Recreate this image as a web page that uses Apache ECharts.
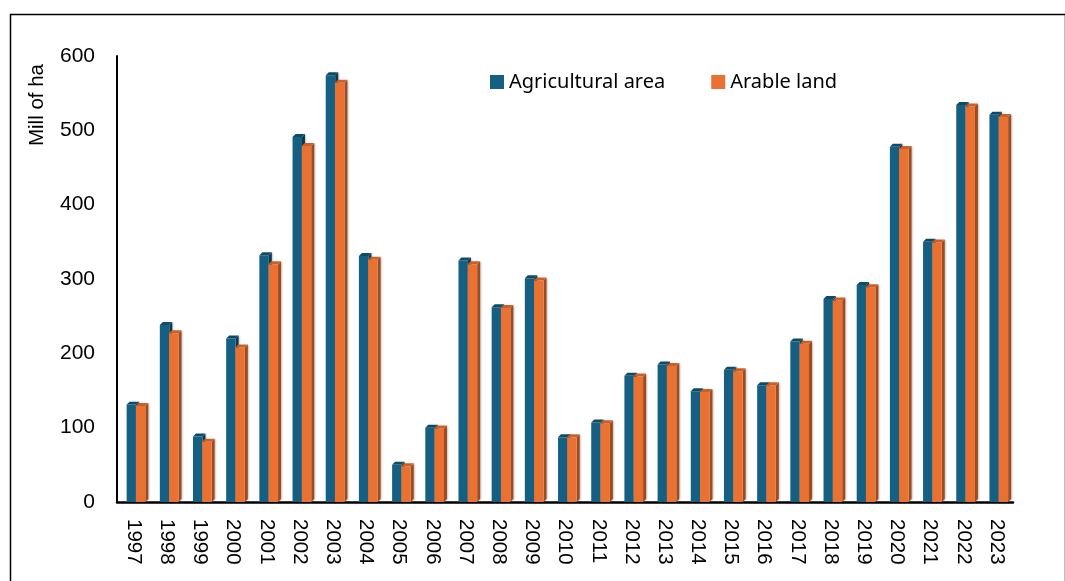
<!DOCTYPE html>
<html>
<head>
<meta charset="utf-8">
<script src="https://cdn.jsdelivr.net/npm/echarts@6/dist/echarts.min.js"></script>
<style>
  html, body { margin: 0; padding: 0; background: #ffffff; }
  #chart { width: 1065px; height: 581px; }
</style>
</head>
<body>
<div id="chart"></div>
<script>
// Years on the category axis
const years = ['1997','1998','1999','2000','2001','2002','2003','2004','2005','2006',
               '2007','2008','2009','2010','2011','2012','2013','2014','2015','2016',
               '2017','2018','2019','2020','2021','2022','2023'];

// Million hectares
const agriculturalArea = [131, 238, 88, 220, 332, 491, 574, 331, 50, 100,
                          325, 262, 301, 87, 107, 170, 185, 149, 178, 157,
                          216, 273, 292, 478, 350, 534, 521];
const arableLand = [129, 227, 81, 208, 320, 479, 564, 326, 48, 99,
                    320, 261, 298, 87, 106, 169, 183, 148, 176, 157,
                    213, 271, 289, 475, 349, 532, 518];

const yTicks = { min: 0, max: 600, step: 100 };

// face colours: front, top, side
const palette = {
  agri:   { front: '#156082', top: '#0f4a66', side: '#0b3a50' },
  arable: { front: '#E97132', top: '#cc5f27', side: '#9e4c1f' }
};

// Draws a column with a shallow 3D top and side face.
// startFrac: left edge of the front face relative to the band centre, in band widths.
function makeRenderer(colors, startFrac) {
  return function (params, api) {
    const cat = api.value(0);
    const val = api.value(1);
    const top = api.coord([cat, val]);
    const base = api.coord([cat, 0]);
    const band = api.size([1, 0])[0];
    const w = band * 0.285;
    const d = band * 0.09;
    const x0 = top[0] + band * startFrac;
    const x1 = x0 + w;
    const yT = top[1];
    const yB = base[1];
    return {
      type: 'group',
      children: [
        {
          type: 'polygon',
          shape: { points: [[x1, yT], [x1 + d, yT - d], [x1 + d, yB - d], [x1, yB]] },
          style: { fill: colors.side, shadowBlur: 2, shadowColor: 'rgba(0,0,0,0.25)', shadowOffsetX: 1 }
        },
        {
          type: 'rect',
          shape: { x: x0, y: yT, width: w, height: yB - yT },
          style: { fill: colors.front }
        },
        {
          type: 'polygon',
          shape: { points: [[x0, yT], [x0 + d, yT - d], [x1 + d, yT - d], [x1, yT]] },
          style: { fill: colors.top }
        }
      ]
    };
  };
}

const agriData = agriculturalArea.map((v, i) => [i, v]);
const arableData = arableLand.map((v, i) => [i, v]);

const labelFont = '"Liberation Sans", Arial, sans-serif';

const chart = echarts.init(document.getElementById('chart'), null, { renderer: 'canvas' });

chart.setOption({
  animation: false,
  backgroundColor: '#ffffff',
  grid: { left: 117, right: 52, top: 56, bottom: 79, containLabel: false },
  legend: {
    left: 490,
    top: 72,
    padding: 0,
    itemWidth: 14,
    itemHeight: 14,
    itemGap: 46,
    icon: 'rect',
    textStyle: { fontFamily: '"Noto Sans", sans-serif', fontSize: 20, color: '#000000' },
    data: [
      { name: 'Agricultural area', itemStyle: { color: palette.agri.front } },
      { name: 'Arable land', itemStyle: { color: palette.arable.front } }
    ]
  },
  xAxis: {
    type: 'category',
    data: years,
    axisLine: { show: true, lineStyle: { color: '#000000', width: 2.5 } },
    axisTick: { show: false },
    axisLabel: {
      rotate: -90,
      margin: 17,
      fontSize: 20.5,
      fontFamily: labelFont,
      color: '#000000'
    },
    splitLine: { show: false }
  },
  yAxis: {
    type: 'value',
    min: yTicks.min,
    max: yTicks.max,
    interval: yTicks.step,
    axisLine: { show: true, lineStyle: { color: '#000000', width: 2 } },
    axisTick: { show: false },
    axisLabel: { margin: 22, fontSize: 21, fontFamily: labelFont, color: '#000000' },
    splitLine: { show: false }
  },
  graphic: [
    {
      type: 'rect',
      left: 8,
      top: 12,
      shape: { x: 0, y: 0, width: 1055, height: 640 },
      style: { fill: 'none', stroke: '#000000', lineWidth: 1.5 },
      silent: true
    },
    {
      type: 'text',
      x: 37,
      y: 105,
      rotation: Math.PI / 2,
      style: {
        text: 'Mill of ha',
        fontSize: 20.5,
        fontFamily: labelFont,
        fill: '#000000',
        textAlign: 'center',
        textVerticalAlign: 'middle'
      }
    }
  ],
  series: [
    {
      name: 'Agricultural area',
      type: 'custom',
      renderItem: makeRenderer(palette.agri, -0.21),
      encode: { x: 0, y: 1 },
      itemStyle: { color: palette.agri.front },
      data: agriData
    },
    {
      name: 'Arable land',
      type: 'custom',
      renderItem: makeRenderer(palette.arable, 0.068),
      encode: { x: 0, y: 1 },
      itemStyle: { color: palette.arable.front },
      data: arableData
    }
  ]
});
</script>
</body>
</html>
